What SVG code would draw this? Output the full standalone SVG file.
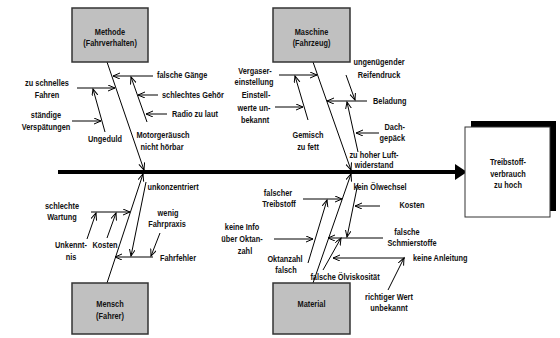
<svg xmlns="http://www.w3.org/2000/svg" width="560" height="338" viewBox="0 0 560 338">
<defs>
<marker id="ah" markerUnits="userSpaceOnUse" markerWidth="10" markerHeight="8" refX="7" refY="3" orient="auto">
<path d="M0,0 L7,3 L0,6" fill="none" stroke="#000" stroke-width="1"/>
</marker>
<style>
.t{font-family:"Liberation Sans",Arial,sans-serif;font-size:9px;font-weight:bold;fill:#111}
.m{text-anchor:middle}
.e{text-anchor:end}
.box{fill:#c0c0c0;stroke:#333;stroke-width:1.5}
.ln{stroke:#000;stroke-width:1;fill:none;marker-end:url(#ah)}
</style>
</defs>
<rect width="560" height="338" fill="#fff"/>
<g id="connectors">
<line x1="58" y1="172" x2="456" y2="172" stroke="#000" stroke-width="4"/>
<path d="M455,164 L467,172 L455,180 Z" fill="#000"/>
<line class="ln" x1="107" y1="62" x2="144" y2="170"/>
<line class="ln" x1="313" y1="62" x2="351" y2="170"/>
<line class="ln" x1="107" y1="283" x2="143" y2="174"/>
<line class="ln" x1="313" y1="283" x2="351" y2="174"/>
<line class="ln" x1="153" y1="76" x2="113" y2="76"/>
<line class="ln" x1="147" y1="122" x2="131" y2="77"/>
<line class="ln" x1="158" y1="95" x2="138" y2="95"/>
<line class="ln" x1="167" y1="114" x2="146" y2="114"/>
<line class="ln" x1="77" y1="88" x2="115" y2="88"/>
<line class="ln" x1="105" y1="132" x2="93" y2="89"/>
<line class="ln" x1="72" y1="121" x2="101" y2="121"/>
<line class="ln" x1="279" y1="75" x2="317" y2="75"/>
<line class="ln" x1="308" y1="120" x2="295" y2="76"/>
<line class="ln" x1="275" y1="107" x2="303" y2="107"/>
<line class="ln" x1="367" y1="101" x2="327" y2="101"/>
<line class="ln" x1="346" y1="75" x2="355" y2="100"/>
<line class="ln" x1="358" y1="152" x2="347" y2="102"/>
<line class="ln" x1="379" y1="133" x2="356" y2="133"/>
<line class="ln" x1="153" y1="257" x2="115" y2="257"/>
<line class="ln" x1="146" y1="182" x2="131" y2="256"/>
<line class="ln" x1="160" y1="233" x2="151" y2="256"/>
<line class="ln" x1="91" y1="212" x2="130" y2="212"/>
<line class="ln" x1="87" y1="239" x2="96" y2="213"/>
<line class="ln" x1="107" y1="238" x2="116" y2="213"/>
<line class="ln" x1="303" y1="199" x2="342" y2="199"/>
<line class="ln" x1="308" y1="263" x2="327" y2="200"/>
<line class="ln" x1="274" y1="239" x2="313" y2="239"/>
<line class="ln" x1="383" y1="238" x2="328" y2="238"/>
<line class="ln" x1="358" y1="183" x2="347" y2="237"/>
<line class="ln" x1="380" y1="206" x2="355" y2="206"/>
<line class="ln" x1="323" y1="270" x2="341" y2="238"/>
<line class="ln" x1="405" y1="258" x2="333" y2="258"/>
<line class="ln" x1="388" y1="290" x2="404" y2="258"/>
</g>
<g id="effect">
<rect x="471" y="121" width="85" height="90" fill="#000"/>
<rect x="465" y="127" width="85" height="90" fill="#fff" stroke="#333" stroke-width="1"/>
<text class="t m" transform="translate(508,165) scale(0.82,1)">Treibstoff-</text>
<text class="t m" transform="translate(508,177) scale(0.82,1)">verbrauch</text>
<text class="t m" transform="translate(508,188) scale(0.82,1)">zu hoch</text>
</g>
<g id="methode">
<rect class="box" x="72" y="8" width="76" height="54"/>
<text class="t m" transform="translate(110,35) scale(0.82,1)">Methode</text>
<text class="t m" transform="translate(110,46) scale(0.82,1)">(Fahrverhalten)</text>
</g>
<g id="maschine">
<rect class="box" x="273" y="8" width="77" height="54"/>
<text class="t m" transform="translate(311.5,35) scale(0.82,1)">Maschine</text>
<text class="t m" transform="translate(311.5,46) scale(0.82,1)">(Fahrzeug)</text>
</g>
<g id="mensch">
<rect class="box" x="72" y="283" width="76" height="51"/>
<text class="t m" transform="translate(110,307) scale(0.82,1)">Mensch</text>
<text class="t m" transform="translate(110,319) scale(0.82,1)">(Fahrer)</text>
</g>
<g id="material">
<rect class="box" x="273" y="283" width="77" height="51"/>
<text class="t m" transform="translate(311.5,307) scale(0.82,1)">Material</text>
</g>
<g id="labels">
<text class="t" transform="translate(157,78) scale(0.82,1)">falsche Gänge</text>
<text class="t" transform="translate(162,98) scale(0.82,1)">schlechtes Gehör</text>
<text class="t" transform="translate(172,117) scale(0.82,1)">Radio zu laut</text>
<text class="t m" transform="translate(163,138) scale(0.82,1)">Motorgeräusch</text>
<text class="t m" transform="translate(162,150) scale(0.82,1)">nicht hörbar</text>
<text class="t m" transform="translate(47,86) scale(0.82,1)">zu schnelles</text>
<text class="t m" transform="translate(47,98) scale(0.82,1)">Fahren</text>
<text class="t m" transform="translate(46,118) scale(0.82,1)">ständige</text>
<text class="t m" transform="translate(46,130) scale(0.82,1)">Verspätungen</text>
<text class="t m" transform="translate(105,142) scale(0.82,1)">Ungeduld</text>
<text class="t m" transform="translate(255,74) scale(0.82,1)">Vergaser-</text>
<text class="t m" transform="translate(254,85) scale(0.82,1)">einstellung</text>
<text class="t m" transform="translate(256,98) scale(0.82,1)">Einstell-</text>
<text class="t m" transform="translate(254,111) scale(0.82,1)">werte un-</text>
<text class="t m" transform="translate(255,123) scale(0.82,1)">bekannt</text>
<text class="t m" transform="translate(308,138) scale(0.82,1)">Gemisch</text>
<text class="t m" transform="translate(308,150) scale(0.82,1)">zu fett</text>
<text class="t m" transform="translate(379,65) scale(0.82,1)">ungenügender</text>
<text class="t m" transform="translate(379,78) scale(0.82,1)">Reifendruck</text>
<text class="t" transform="translate(373,104) scale(0.82,1)">Beladung</text>
<text class="t e" transform="translate(405,130) scale(0.82,1)">Dach-</text>
<text class="t e" transform="translate(405,141) scale(0.82,1)">gepäck</text>
<text class="t m" transform="translate(374,158) scale(0.82,1)">zu hoher Luft-</text>
<text class="t m" transform="translate(374,168) scale(0.82,1)">widerstand</text>
<text class="t m" transform="translate(173,190) scale(0.82,1)">unkonzentriert</text>
<text class="t m" transform="translate(168,216) scale(0.82,1)">wenig</text>
<text class="t m" transform="translate(167,227) scale(0.82,1)">Fahrpraxis</text>
<text class="t m" transform="translate(178,261) scale(0.82,1)">Fahrfehler</text>
<text class="t m" transform="translate(62,209) scale(0.82,1)">schlechte</text>
<text class="t m" transform="translate(62,220) scale(0.82,1)">Wartung</text>
<text class="t m" transform="translate(71,248) scale(0.82,1)">Unkennt-</text>
<text class="t m" transform="translate(71,260) scale(0.82,1)">nis</text>
<text class="t m" transform="translate(105,248) scale(0.82,1)">Kosten</text>
<text class="t m" transform="translate(278,196) scale(0.82,1)">falscher</text>
<text class="t m" transform="translate(279,207) scale(0.82,1)">Treibstoff</text>
<text class="t m" transform="translate(242,230) scale(0.82,1)">keine Info</text>
<text class="t m" transform="translate(242,242) scale(0.82,1)">über Oktan-</text>
<text class="t m" transform="translate(245,254) scale(0.82,1)">zahl</text>
<text class="t m" transform="translate(285,262) scale(0.82,1)">Oktanzahl</text>
<text class="t m" transform="translate(286,273) scale(0.82,1)">falsch</text>
<text class="t m" transform="translate(380,190) scale(0.82,1)">kein Ölwechsel</text>
<text class="t m" transform="translate(412,208) scale(0.82,1)">Kosten</text>
<text class="t m" transform="translate(407,235) scale(0.82,1)">falsche</text>
<text class="t m" transform="translate(412,246) scale(0.82,1)">Schmierstoffe</text>
<text class="t" transform="translate(413,261) scale(0.82,1)">keine Anleitung</text>
<text class="t m" transform="translate(345,280) scale(0.82,1)">falsche Ölviskosität</text>
<text class="t m" transform="translate(389,300) scale(0.82,1)">richtiger Wert</text>
<text class="t m" transform="translate(389,311) scale(0.82,1)">unbekannt</text>
</g>
</svg>
